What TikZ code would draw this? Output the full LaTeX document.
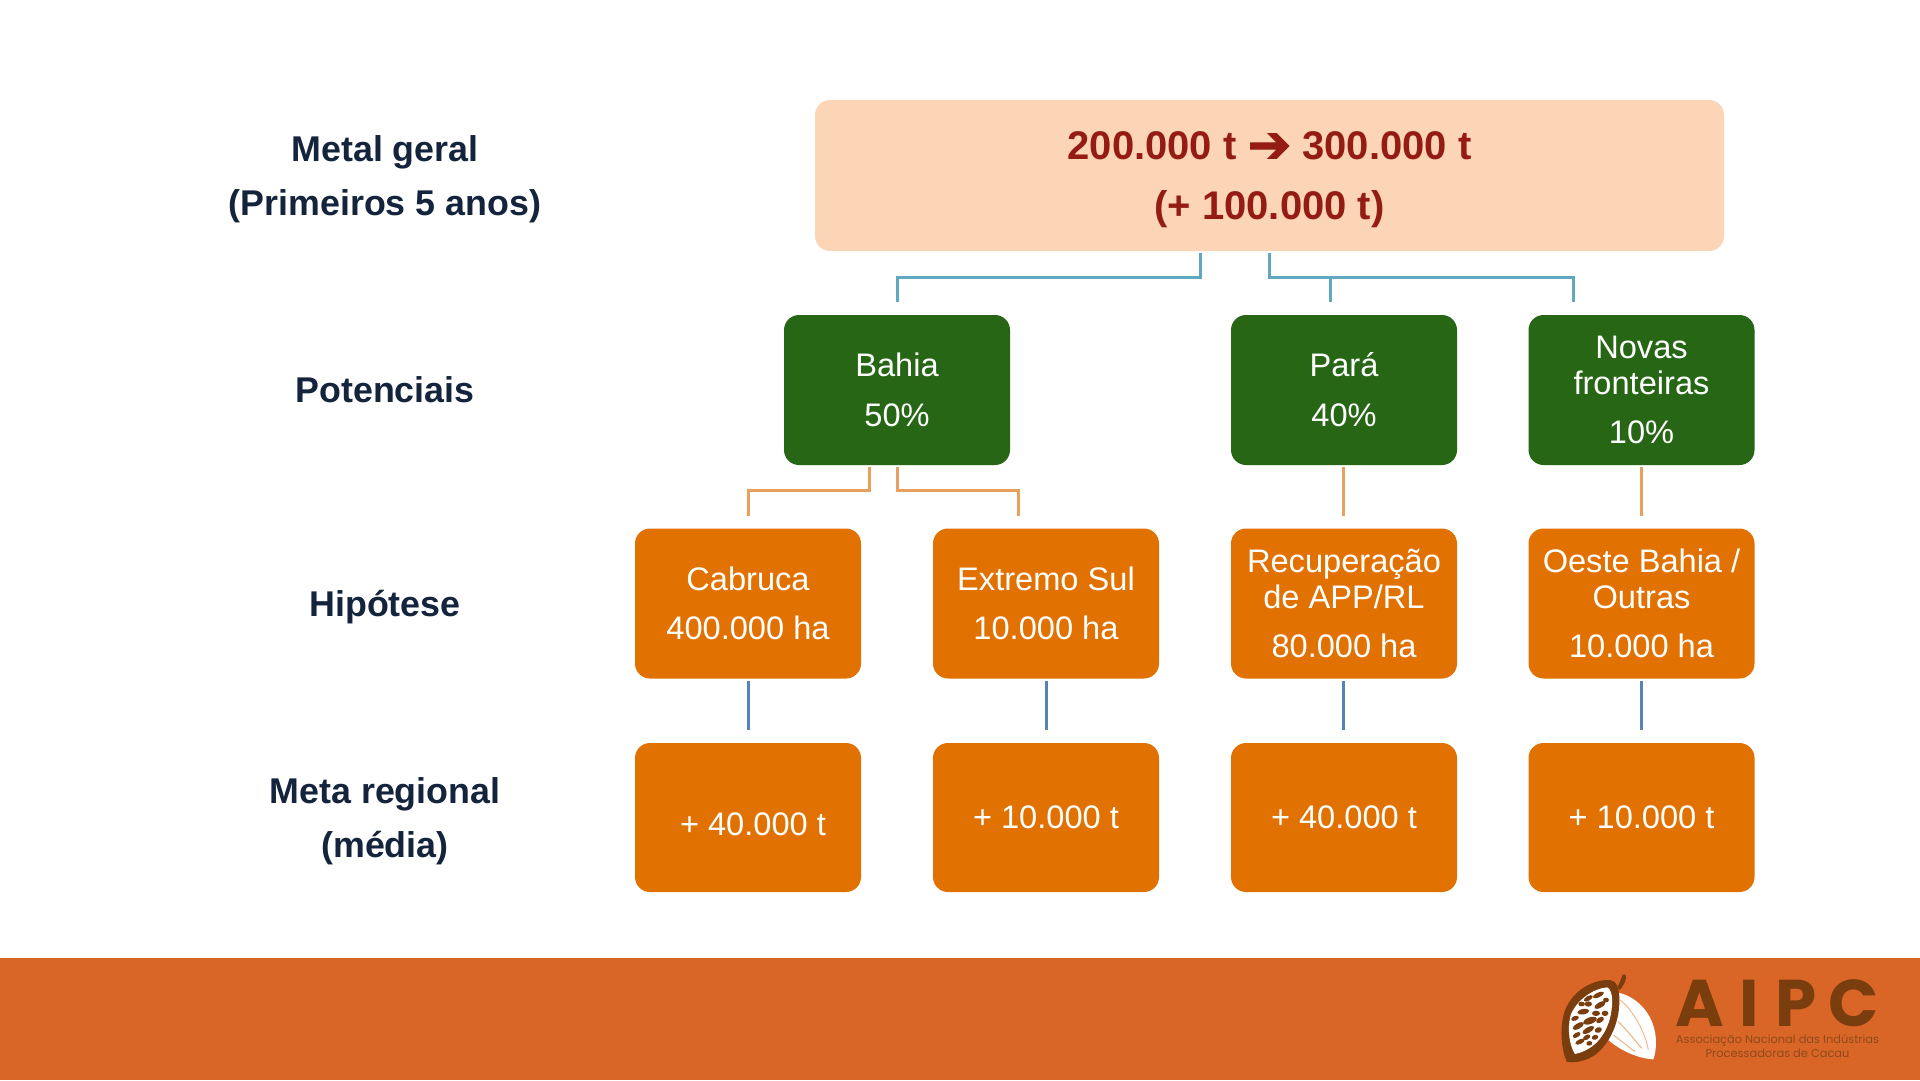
\documentclass[tikz,border=0pt]{standalone}
\usepackage{fontspec}
\setmainfont{Liberation Sans}
\newfontfamily\logofont{Poppins}
\newfontfamily\arrowfont[FakeBold=2.2]{DejaVu Sans}
\usetikzlibrary{calc}
\definecolor{peachc}{HTML}{FBD5B5}
\definecolor{redc}{HTML}{941C14}
\definecolor{greenc}{HTML}{266614}
\definecolor{orangec}{HTML}{E17100}
\definecolor{footc}{HTML}{D96627}
\definecolor{navyc}{HTML}{14243C}
\definecolor{tealc}{HTML}{5FA8C0}
\definecolor{sandc}{HTML}{E9A05F}
\definecolor{bluec}{HTML}{5682B5}
\definecolor{brownc}{HTML}{7A3D0D}
\definecolor{brownl}{HTML}{8F4A1C}
\tikzset{
  boxbase/.style={rounded corners=15pt,inner sep=0pt,minimum width=226pt,minimum height=150pt,align=center,text=white,font=\fontsize{32.6}{36}\selectfont},
  greenbox/.style={boxbase,fill=greenc},
  orangebox/.style={boxbase,fill=orangec},
  peachbox/.style={rounded corners=15pt,inner sep=0pt,minimum width=909pt,minimum height=151pt,align=center,fill=peachc,text=redc,font=\fontsize{40}{44}\selectfont\bfseries},
  rowlabel/.style={inner sep=0pt,align=center,text=navyc,font=\fontsize{35.8}{40}\selectfont\bfseries},
  link/.style={line width=3pt},
  seed/.style={fill=brownc,draw=none}
}
\begin{document}
\begin{tikzpicture}[x=1pt,y=-1pt]
\useasboundingbox (0,0) rectangle (1920,1080);
\fill[white] (0,0) rectangle (1920,1080);
\fill[footc] (0,958) rectangle (1920,1080);

% row labels
\node[rowlabel] (l1) at (385,179) {Metal geral\\[14pt](Primeiros 5 anos)};
\node[rowlabel] (l2) at (385,390) {Potenciais};
\node[rowlabel] (l3) at (385,607) {Hipótese};
\node[rowlabel] (l4) at (385,821) {Meta regional\\[14pt](média)};

% boxes
\node[peachbox] (top) at (1269.5,175.5) {\raisebox{-4pt}[\height][\depth]{200.000 t {\arrowfont\mdseries\fontsize{52}{44}\selectfont\raisebox{-3pt}[0pt][0pt]{➔}} 300.000 t}\\[16pt]\raisebox{-4pt}[\height][\depth]{(+ 100.000 t)}};

\node[greenbox] (bahia) at (897,390) {Bahia\\[14pt]50\%};
\node[greenbox] (para) at (1344,390) {Pará\\[14pt]40\%};
\node[greenbox] (novas) at (1641.5,390) {Novas\\fronteiras\\[13pt]10\%};

\node[orangebox] (cab) at (748,603.5) {Cabruca\\[13pt]400.000 ha};
\node[orangebox] (ext) at (1046,603.5) {Extremo Sul\\[13pt]10.000 ha};
\node[orangebox] (rec) at (1344,603.5) {Recuperação\\de APP/RL\\[13pt]80.000 ha};
\node[orangebox] (oes) at (1641.5,603.5) {Oeste Bahia /\\Outras\\[13pt]10.000 ha};

\node[orangebox,minimum height=149pt] (m1) at (748,817.5) {\raisebox{-7pt}[\height][\depth]{\hspace*{10pt}+ 40.000 t}};
\node[orangebox,minimum height=149pt] (m2) at (1046,817.5) {+ 10.000 t};
\node[orangebox,minimum height=149pt] (m3) at (1344,817.5) {+ 40.000 t};
\node[orangebox,minimum height=149pt] (m4) at (1641.5,817.5) {+ 10.000 t};

% connectors
\draw[link,tealc] ([xshift=-69.5pt,yshift=-2pt]top.south) -- ++(0,24.5) -| ([yshift=13pt]bahia.north);
\draw[link,tealc] ([xshift=0pt,yshift=-2pt]top.south) -- ++(0,24.5) -| ([xshift=-68pt,yshift=13pt]novas.north);
\draw[link,tealc] ([xshift=-13.5pt,yshift=38pt]para.north) -- ([xshift=-13.5pt,yshift=13pt]para.north);

\draw[link,sandc] ([xshift=-28pt,yshift=-1.5pt]bahia.south) -- ++(0,24) -| ([yshift=12pt]cab.north);
\draw[link,sandc] ([yshift=-1.5pt]bahia.south) -- ++(0,24) -| ([xshift=-28pt,yshift=12pt]ext.north);
\draw[link,sandc] ([xshift=-0.5pt,yshift=-1.5pt]para.south) -- ([xshift=-0.5pt,yshift=12pt]rec.north);
\draw[link,sandc] ([yshift=-1.5pt]novas.south) -- ([yshift=12pt]oes.north);

\draw[link,bluec] ([yshift=-2pt]cab.south) -- ([yshift=13pt]m1.north);
\draw[link,bluec] ([yshift=-2pt]ext.south) -- ([yshift=13pt]m2.north);
\draw[link,bluec] ([xshift=-0.5pt,yshift=-2pt]rec.south) -- ([xshift=-0.5pt,yshift=13pt]m3.north);
\draw[link,bluec] ([yshift=-2pt]oes.south) -- ([yshift=13pt]m4.north);

% logo text
\node[inner sep=0pt,anchor=west,text=brownc,font=\logofont\bfseries\fontsize{66}{66}\selectfont] (aipc) at (1675,1003) {A\hspace{16pt}I\hspace{16pt}P\hspace{12pt}C};
\node[inner sep=0pt,text=brownl,font=\logofont\fontsize{11.4}{14}\selectfont,align=center] (assoc) at (1777.5,1046.5) {Associação Nacional das Indústrias\\Processadoras de Cacau};

% logo pod (3x zoom coordinates)
\begin{scope}[shift={(1520,950)},x=0.3333pt,y=-0.3333pt]
  \fill[white] (295,128) .. controls (350,140) and (400,190) .. (407,260) .. controls (410,290) and (405,315) .. (400,328) .. controls (350,325) and (300,300) .. (265,270) -- cycle;
  \draw[sandc!70!white,line width=1pt] (300,150) .. controls (330,170) and (375,240) .. (385,300);
  \draw[sandc!80!white,line width=1pt] (295,215) .. controls (320,240) and (345,270) .. (365,295);
  \draw[sandc!80!white,line width=1pt] (280,255) .. controls (300,270) and (325,290) .. (345,305);
  \fill[brownc] (292,112) .. controls (298,100) and (303,88) .. (308,74) .. controls (318,70) and (320,80) .. (316,92) .. controls (312,104) and (306,112) .. (300,120) -- cycle;
  \fill[brownc] (270,90) .. controls (290,92) and (300,115) .. (298,160) .. controls (296,220) and (270,280) .. (225,315) .. controls (195,335) and (160,340) .. (140,335) .. controls (125,300) and (118,240) .. (132,190) .. controls (150,130) and (210,88) .. (270,90) -- cycle;
  \fill[white] (262,112) .. controls (282,125) and (278,170) .. (270,205) .. controls (255,260) and (220,300) .. (165,312) .. controls (150,290) and (140,240) .. (152,195) .. controls (170,150) and (220,115) .. (262,112) -- cycle;
  \foreach \px/\py/\pa/\pb/\pc in {
    235/135/18/7/25, 205/145/15/7/30, 240/165/19/8/30, 205/162/11/8/0,
    258/150/9/7/0, 185/162/10/7/0, 255/190/10/8/0, 228/190/12/8/0,
    190/185/18/8/10, 165/205/12/7/20, 210/212/21/10/20, 240/210/13/8/30,
    175/228/19/8/30, 205/240/20/8/30, 235/240/11/8/20, 170/255/13/7/30,
    200/262/12/7/30, 225/262/10/7/20, 180/275/15/7/25, 208/280/9/7/10}
    \fill[seed,rotate around={\pc:(\px,\py)}] (\px,\py) ellipse [x radius=\pa,y radius=\pb];
\end{scope}
\end{tikzpicture}
\end{document}
